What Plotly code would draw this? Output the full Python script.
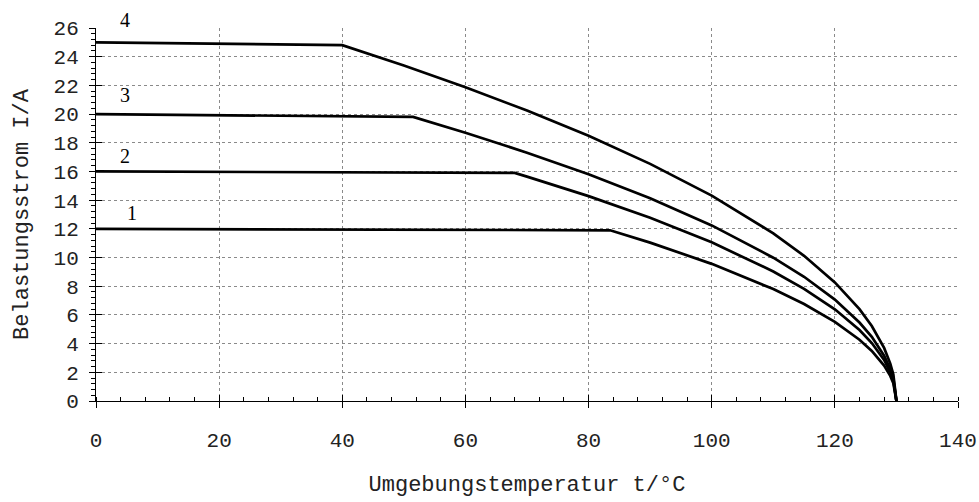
import plotly.graph_objects as go

# Belastungsstrom über Umgebungstemperatur, vier Kennlinien
t_1 = [0, 83.5, 90, 100, 110, 115, 120, 124, 126, 128, 129, 129.5, 130]
i_1 = [12.0, 11.9, 11.04, 9.56, 7.80, 6.76, 5.52, 4.27, 3.49, 2.47, 1.75, 1.23, 0]

t_2 = [0, 68, 70, 80, 90, 100, 110, 115, 120, 124, 126, 128, 129, 129.5, 130]
i_2 = [16.0, 15.9, 15.64, 14.28, 12.77, 11.06, 9.03, 7.82, 6.39, 4.95, 4.04, 2.86, 2.02, 1.43, 0]

t_3 = [0, 51.5, 60, 70, 80, 90, 100, 110, 115, 120, 124, 126, 128, 129, 129.5, 130]
i_3 = [20.0, 19.8, 18.70, 17.31, 15.80, 14.13, 12.24, 9.99, 8.66, 7.07, 5.47, 4.47, 3.16, 2.23, 1.58, 0]

t_4 = [0, 40, 50, 60, 70, 80, 90, 100, 110, 115, 120, 124, 126, 128, 129, 129.5, 130]
i_4 = [25.0, 24.8, 23.38, 21.87, 20.25, 18.49, 16.53, 14.32, 11.69, 10.12, 8.27, 6.40, 5.23, 3.70, 2.61, 1.85, 0]

curve_names = ["1", "2", "3", "4"]
label_t = [5.8, 4.7, 4.7, 4.7]
label_i = [13.1, 17.1, 21.3, 26.0]
label_shift = [0, 0, 0, 8]   # Nummer 4 sitzt knapp über dem Achsenende

x_ticks = [0, 20, 40, 60, 80, 100, 120, 140]
y_ticks = list(range(0, 27, 2))

mono = "Liberation Mono, Courier New, monospace"
serif = "Liberation Serif, Times New Roman, serif"

fig = go.Figure()
for t, i, name in zip([t_1, t_2, t_3, t_4], [i_1, i_2, i_3, i_4], curve_names):
    fig.add_trace(go.Scatter(x=t, y=i, mode="lines", name=name,
                             line=dict(color="black", width=2.7),
                             showlegend=False, hoverinfo="skip"))

for name, t, i, dy in zip(curve_names, label_t, label_i, label_shift):
    fig.add_annotation(x=t, y=i, xref="x", yref="y", yshift=dy, text=name,
                       showarrow=False,
                       font=dict(family=serif, size=20, color="black"))

# unsichtbare Spur auf den Zweitachsen, damit deren Innen-Ticks erscheinen
fig.add_trace(go.Scatter(x=[0], y=[0], xaxis="x2", yaxis="y2", mode="markers",
                         marker=dict(opacity=0), showlegend=False, hoverinfo="skip"))

grid = dict(showgrid=True, gridcolor="#8a8a8a", griddash="dot", gridwidth=1)

fig.update_layout(
    width=979, height=502,
    margin=dict(l=96, r=21, t=28, b=101),
    paper_bgcolor="white", plot_bgcolor="white",
    xaxis=dict(range=[0, 140], tickvals=x_ticks, ticks="outside", ticklen=6,
               tickcolor="black", showline=True, linecolor="black", linewidth=1,
               zeroline=False, ticklabelstandoff=14, automargin=False,
               tickfont=dict(family=mono, size=21, color="#222"),
               minor=dict(dtick=4, ticks="inside", ticklen=4, tickcolor="black", showgrid=False),
               title=dict(text="Umgebungstemperatur t/°C", standoff=23,
                          font=dict(family=mono, size=22, color="#222")),
               **grid),
    yaxis=dict(range=[0, 26], tickvals=y_ticks, ticks="outside", ticklen=6,
               tickcolor="black", showline=True, linecolor="black", linewidth=1,
               zeroline=False, ticklabelstandoff=6, automargin=False,
               tickfont=dict(family=mono, size=21, color="#222"),
               minor=dict(dtick=0.4, ticks="outside", ticklen=4, tickcolor="black", showgrid=False),
               title=dict(text="Belastungsstrom I/A", standoff=18,
                          font=dict(family=mono, size=22, color="#222")),
               **grid),
    xaxis2=dict(range=[0, 140], overlaying="x", side="bottom", tickvals=x_ticks,
                ticks="inside", ticklen=6, tickcolor="black", showticklabels=False,
                showgrid=False, zeroline=False, showline=False, automargin=False),
    yaxis2=dict(range=[0, 26], overlaying="y", side="left", tickvals=y_ticks,
                ticks="inside", ticklen=6, tickcolor="black", showticklabels=False,
                showgrid=False, zeroline=False, showline=False, automargin=False),
)

fig.write_html("out.html")
